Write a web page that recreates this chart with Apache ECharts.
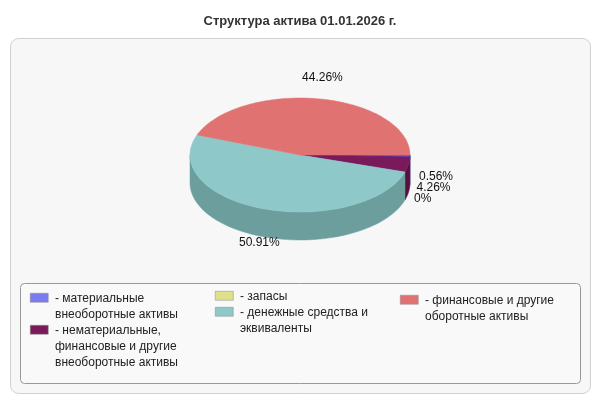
<!DOCTYPE html>
<html><head><meta charset="utf-8">
<script src="https://cdn.jsdelivr.net/npm/echarts@6/dist/echarts.min.js"></script>
<style>html,body{margin:0;padding:0;background:#fff}#c{width:600px;height:400px}</style>
</head><body><div id="c"></div>
<script>
const categories = ['- материальные\nвнеоборотные активы','- нематериальные,\nфинансовые и другие\nвнеоборотные активы','- запасы','- денежные средства и\nэквиваленты','- финансовые и другие\nоборотные активы'];
const values = [0.56, 4.26, 0, 50.91, 44.26];
const labels = ['0.56%','4.26%','0%','50.91%','44.26%'];
const colors = ['#7b7bef','#7a1a5a','#e0e08a','#8fc8c8','#e07272'];
const sideColors = ['#5a5ab0','#560f3f','#a8a860','#6c9e9e','#a85050'];

const chart = echarts.init(document.getElementById('c'));
const CX=300, CY=155, RX=110, RY=57, DEPTH=28;
function pt(a, dy){return [CX+RX*Math.cos(a), CY+RY*Math.sin(a)+(dy||0)];}
function renderPie(params, api){
  if(params.dataIndex!==0) return;
  const total = values.reduce((s,v)=>s+v,0);
  let a=0; const slices=[];
  values.forEach((v,i)=>{const a2=a+v/total*2*Math.PI; slices.push({i,a1:a,a2}); a=a2;});
  const children=[];
  slices.forEach(s=>{
    const lo=Math.max(s.a1,0), hi=Math.min(s.a2,Math.PI);
    if(hi>lo){
      const pts=[];const n=40;
      for(let k=0;k<=n;k++) pts.push(pt(lo+(hi-lo)*k/n));
      for(let k=n;k>=0;k--) pts.push(pt(lo+(hi-lo)*k/n,DEPTH));
      children.push({type:'polygon',shape:{points:pts},style:{fill:sideColors[s.i],stroke:sideColors[s.i],lineWidth:0.5}});
    }
  });
  slices.forEach(s=>{
    if(s.a2<=s.a1) return;
    const pts=[[CX,CY]];const n=Math.max(4,Math.ceil((s.a2-s.a1)*40));
    for(let k=0;k<=n;k++) pts.push(pt(s.a1+(s.a2-s.a1)*k/n));
    children.push({type:'polygon',shape:{points:pts},style:{fill:colors[s.i],stroke:s.i===0?'#3030d0':colors[s.i],lineWidth:s.i===0?1:0.5}});
  });
  let smallIdx=0;
  slices.forEach(s=>{
    const m=(s.a1+s.a2)/2; let x,y,align;
    if(values[s.i]<5){ x=CX+RX+9-smallIdx*2.5; y=CY+22+smallIdx*11; align='left'; smallIdx++; }
    else { const p=pt(m); x=p[0]+Math.cos(m)*15; y=p[1]+Math.sin(m)*14+(Math.sin(m)>0?DEPTH:0)-7; align='center'; }
    children.push({type:'text',style:{text:labels[s.i],x:x,y:y,textAlign:align,textVerticalAlign:'middle',fill:'#111',font:'12px "Liberation Sans", Arial'}});
  });
  return {type:'group',children};
}
const legendPos=[[30,292],[30,324],[215,290],[215,306],[400,294]];
const legendGraphics=[];
categories.forEach((c,i)=>{
  legendGraphics.push({type:'rect',left:legendPos[i][0],top:legendPos[i][1]+1,shape:{width:18,height:9},style:{fill:colors[i],stroke:'#888',lineWidth:0.5}});
  legendGraphics.push({type:'text',left:legendPos[i][0]+25,top:legendPos[i][1]-1,style:{text:c,fill:'#222',font:'12px "Liberation Sans", Arial',lineHeight:16}});
});
chart.setOption({
  animation:false,
  title:{text:'Структура актива 01.01.2026 г.',left:'center',top:10,textStyle:{fontSize:13,fontWeight:'bold',color:'#333',fontFamily:'Liberation Sans, Arial'}},
  graphic:[
    {type:'rect',left:10,top:38,z:-10,shape:{width:580,height:355,r:8},style:{fill:'#f7f7f7',stroke:'#d0d0d0'}},
    {type:'rect',left:20,top:283,z:-5,shape:{width:560,height:100,r:4},style:{fill:'#f9f9f9',stroke:'#999'}}
  ].concat(legendGraphics),
  xAxis:{show:false},yAxis:{show:false},
  series:[{type:'custom',coordinateSystem:'none',data:[0],renderItem:renderPie}]
});
</script></body></html>
